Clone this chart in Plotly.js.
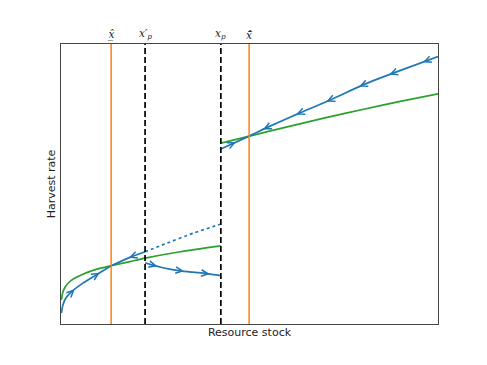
<!DOCTYPE html>
<html>
<head>
<meta charset="utf-8">
<script src="https://cdn.plot.ly/plotly-3.0.1.min.js"></script>
<style>
  html, body { margin: 0; padding: 0; background: #fff; }
  #chart { width: 487px; height: 365px; }
</style>
</head>
<body>
<div id="chart"></div>
<script>
// growth curve (green), lower branch below x_p and upper branch above it
const growthLowX = [0.01, 0.05, 0.11, 0.22, 0.37, 0.58, 0.93, 1.33, 1.83, 2.23, 3.16, 4.24];
const growthLowY = [0.86, 1.14, 1.32, 1.50, 1.64, 1.78, 1.95, 2.08, 2.23, 2.35, 2.58, 2.79];
const growthHighX = [4.24, 5.0, 6.0, 7.0, 8.0, 9.0, 10.0];
const growthHighY = [6.46, 6.71, 7.04, 7.36, 7.66, 7.95, 8.22];

// harvest paths (blue)
const pathRiseX = [0.01, 0.05, 0.13, 0.27, 0.58, 0.93, 1.33];
const pathRiseY = [0.39, 0.68, 0.93, 1.14, 1.46, 1.75, 2.08];
const pathBackX = [1.33, 1.83, 2.23];
const pathBackY = [2.08, 2.38, 2.58];
const pathDotX = [2.23, 2.76, 3.5, 4.24];
const pathDotY = [2.58, 2.86, 3.24, 3.57];
const pathFallX = [2.23, 2.36, 2.7, 3.16, 3.5, 3.87, 4.24];
const pathFallY = [2.19, 2.13, 2.01, 1.90, 1.85, 1.80, 1.73];
const pathHighX = [4.24, 4.99, 5.5, 6.34, 7.14, 8.01, 8.81, 10.0];
const pathHighY = [6.25, 6.71, 7.04, 7.54, 8.0, 8.54, 8.96, 9.55];

// arrow positions on each path: x and direction (+1 right, -1 left)
const arrowsRise = [[0.27, 1], [0.93, 1]];
const arrowsBack = [[1.9, -1]];
const arrowsFall = [[2.45, 1], [3.16, 1], [3.84, 1]];
const arrowsHigh = [[4.54, 1], [5.46, -1], [6.34, -1], [7.14, -1], [8.01, -1], [8.81, -1], [9.7, -1]];

// reference stock levels marked on top
const markX = [1.33, 2.23, 4.24, 4.99];
const markLabels = ['<i>x\u0302\u0332</i>', '<i>x′</i><sub><i>p</i></sub>', '<i>x</i><sub><i>p</i></sub>', '<i>x\u0304\u0302</i>'];
const markStyle = ['solid', 'dashed', 'dashed', 'solid'];

const BLUE = '#1f77b4', GREEN = '#2ca02c', ORANGE = '#ff7f0e';
const X_RANGE = [0, 10], Y_RANGE = [0, 10];
const W = 487, H = 365, M = {l: 61, r: 49, t: 44, b: 41};

function interp(xs, ys, x) {
    for (let i = 0; i < xs.length - 1; i++) {
        if (x >= xs[i] && x <= xs[i + 1]) {
            const t = (x - xs[i]) / (xs[i + 1] - xs[i]);
            return ys[i] + t * (ys[i + 1] - ys[i]);
        }
    }
    return ys[ys.length - 1];
}

function line(xs, ys, color, dash) {
    return {
        x: xs, y: ys, type: 'scatter', mode: 'lines', hoverinfo: 'skip',
        line: {color: color, width: 1.7, dash: dash || 'solid', shape: 'spline', smoothing: 0.6}
    };
}

const traces = [
    line(growthLowX, growthLowY, GREEN),
    line(growthHighX, growthHighY, GREEN),
    line(pathRiseX, pathRiseY, BLUE),
    line(pathBackX, pathBackY, BLUE),
    line(pathDotX, pathDotY, BLUE, 'dot'),
    line(pathFallX, pathFallY, BLUE),
    line(pathHighX, pathHighY, BLUE)
];

// open chevron arrowheads, drawn as pixel-sized paths anchored on the curve
const pxX = (W - M.l - M.r) / (X_RANGE[1] - X_RANGE[0]);
const pxY = (H - M.t - M.b) / (Y_RANGE[1] - Y_RANGE[0]);
const shapes = [];
function addArrows(xs, ys, list) {
    list.forEach(([x, dir]) => {
        const tx = x + dir * 0.06, bx = x - dir * 0.1;
        const ty = interp(xs, ys, tx), by = interp(xs, ys, bx);
        let dx = (tx - bx) * pxX, dy = (ty - by) * pxY;
        const n = Math.hypot(dx, dy); dx /= n; dy /= n;
        const L = 6.8, S = 3.3;
        const p1 = [-L * dx - S * dy, -L * dy + S * dx];
        const p2 = [-L * dx + S * dy, -L * dy - S * dx];
        shapes.push({
            type: 'path', xref: 'x', yref: 'y', xsizemode: 'pixel', ysizemode: 'pixel',
            xanchor: tx, yanchor: ty,
            path: `M${p1[0].toFixed(2)},${p1[1].toFixed(2)} L0,0 L${p2[0].toFixed(2)},${p2[1].toFixed(2)}`,
            line: {color: BLUE, width: 1.5}
        });
    });
}
addArrows(pathRiseX, pathRiseY, arrowsRise);
addArrows(pathBackX, pathBackY, arrowsBack);
addArrows(pathFallX, pathFallY, arrowsFall);
addArrows(pathHighX, pathHighY, arrowsHigh);

markX.forEach((x, i) => shapes.push({
    type: 'line', xref: 'x', yref: 'paper', x0: x, x1: x, y0: 0, y1: 1,
    line: markStyle[i] === 'solid'
        ? {color: ORANGE, width: 1.5}
        : {color: '#000', width: 1.7, dash: '6px,3px'}
}));

const annotations = markX.map((x, i) => ({
    x: x, y: 1, xref: 'x', yref: 'paper', yanchor: 'bottom', yshift: 1,
    text: markLabels[i], showarrow: false,
    font: {family: 'DejaVu Serif', size: 10.5, color: '#222'}
}));

const layout = {
    width: W, height: H,
    margin: M,
    paper_bgcolor: '#fff', plot_bgcolor: '#fff',
    showlegend: false,
    font: {family: 'DejaVu Sans', size: 9.5, color: '#222'},
    xaxis: {
        range: X_RANGE, showgrid: false, zeroline: false, showticklabels: false, ticks: '',
        showline: true, mirror: true, linecolor: '#444', linewidth: 1,
        title: {text: 'Resource stock', standoff: 4}
    },
    yaxis: {
        range: Y_RANGE, showgrid: false, zeroline: false, showticklabels: false, ticks: '',
        showline: true, mirror: true, linecolor: '#444', linewidth: 1,
        title: {text: 'Harvest rate', standoff: 2}
    },
    shapes: shapes,
    annotations: annotations
};

Plotly.newPlot('chart', traces, layout, {displayModeBar: false, staticPlot: true});
</script>
</body>
</html>
